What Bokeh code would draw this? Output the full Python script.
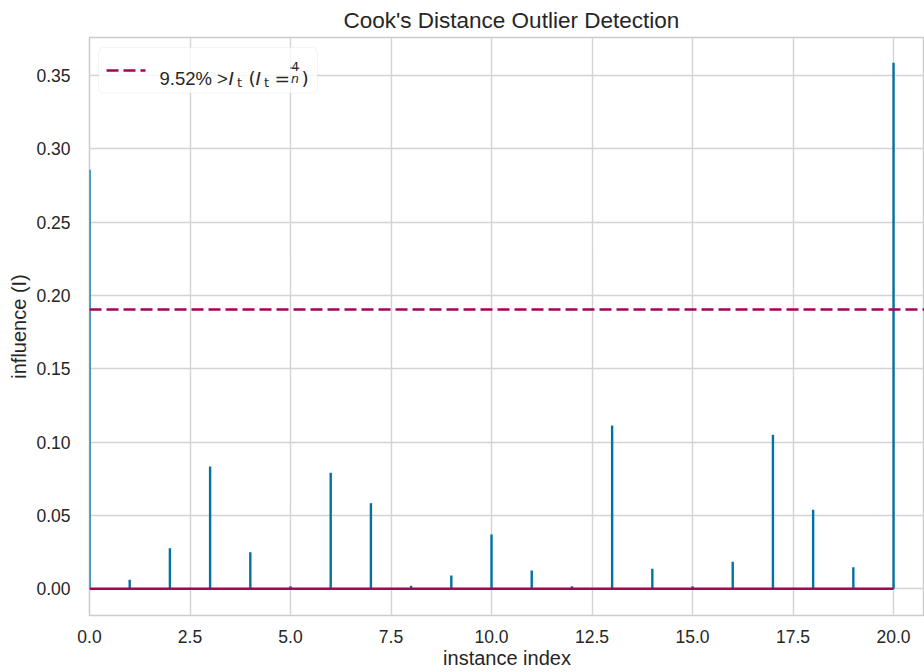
from bokeh.plotting import figure
from bokeh.models import (Range1d, FixedTicker, Span, BoxAnnotation,
                          Label, Arrow, PrintfTickFormatter)
from bokeh.embed import file_html
from bokeh.resources import INLINE

# ---- data ----
instance_index = list(range(21))
influence = [0.2857, 0.0061, 0.0277, 0.0834, 0.0250, 0.0018, 0.0791, 0.0584, 0.0020, 0.0091,
             0.0370, 0.0125, 0.0018, 0.1113, 0.0136, 0.0018, 0.0184, 0.1050, 0.0539, 0.0147,
             0.3586]
x_ticks = [0, 2.5, 5, 7.5, 10, 12.5, 15, 17.5, 20]
y_ticks = [0.0, 0.05, 0.10, 0.15, 0.20, 0.25, 0.30, 0.35]

n = len(influence)
threshold = 4.0 / n
pct_over = 100.0 * sum(1 for v in influence if v > threshold) / n

BLUE = "#0272a2"
MAG = "#a50258"
GRID = "#d3d3d3"
TXT = "#262626"
FONT = "Liberation Sans"
MATH = "DejaVu Sans"

XMIN, XMAX = 0.0, 20.77
YMIN, YMAX = -0.0182, 0.3759
FX0, FX1, FY0, FY1 = 89, 924, 37, 615


def px2x(px):
    return XMIN + (px - FX0) / (FX1 - FX0) * (XMAX - XMIN)


def py2y(py):
    return YMAX - (py - FY0) / (FY1 - FY0) * (YMAX - YMIN)


p = figure(width=924, height=672, output_backend="svg", toolbar_location=None,
           x_range=Range1d(XMIN, XMAX), y_range=Range1d(YMIN, YMAX),
           min_border_left=FX0, min_border_right=0, min_border_top=FY0,
           min_border_bottom=672 - FY1)

p.title.text = "Cook's Distance Outlier Detection"
p.title.align = "left"
p.title.offset = 254
p.title.text_font = FONT
p.title.text_font_size = "22.5px"
p.title.text_font_style = "normal"
p.title.text_color = TXT

p.background_fill_color = "white"
p.border_fill_color = "white"
p.outline_line_color = "#cccccc"
p.outline_line_width = 1.5

for ax in (p.xaxis[0], p.yaxis[0]):
    ax.axis_line_color = None
    ax.major_tick_line_color = None
    ax.minor_tick_line_color = None
    ax.major_label_text_font = FONT
    ax.major_label_text_font_size = "17.5px"
    ax.major_label_text_color = TXT
    ax.axis_label_text_font = FONT
    ax.axis_label_text_font_size = "20px"
    ax.axis_label_text_font_style = "normal"
    ax.axis_label_text_color = TXT

p.xaxis.axis_label = "instance index"
p.yaxis.axis_label = "influence (I)"
p.xaxis.ticker = FixedTicker(ticks=x_ticks)
p.yaxis.ticker = FixedTicker(ticks=y_ticks)
p.xaxis.formatter = PrintfTickFormatter(format="%.1f")
p.yaxis.formatter = PrintfTickFormatter(format="%.2f")
p.xaxis.major_label_standoff = 8
p.yaxis.major_label_standoff = 13
p.xaxis.axis_label_standoff = 1
p.yaxis.axis_label_standoff = 3

p.xgrid.grid_line_color = GRID
p.ygrid.grid_line_color = GRID
p.xgrid.grid_line_width = 1.4
p.ygrid.grid_line_width = 1.4

# threshold line
p.add_layout(Span(location=threshold, dimension="width", line_color=MAG,
                  line_width=2.5, line_dash="12 5"))

# stems
p.segment(x0=instance_index, y0=[0] * n, x1=instance_index, y1=influence,
          line_color=BLUE, line_width=2.4)
# baseline
p.segment(x0=[instance_index[0]], y0=[0], x1=[instance_index[-1]], y1=[0],
          line_color=MAG, line_width=2.6)

# ---- legend (drawn manually to allow math-like label) ----
p.add_layout(BoxAnnotation(left=px2x(98), right=px2x(317), top=py2y(47), bottom=py2y(92.5),
                           fill_color="white", fill_alpha=0.8, line_color="#dcdcdc",
                           line_width=1, border_radius=5))
p.add_layout(Arrow(end=None, x_start=px2x(106), y_start=py2y(70), x_end=px2x(145),
                   y_end=py2y(70), line_color=MAG, line_width=2.5, line_dash="12 5"))


def lab(text, px, py, size, font=FONT, style="normal"):
    p.add_layout(Label(x=px2x(px), y=py2y(py), text=text, text_font=font,
                       text_font_size=size, text_font_style=style, text_color=TXT,
                       text_align="left", text_baseline="alphabetic"))


lab("%.2f%% >" % pct_over, 159, 77.5, "18.5px")
lab("I", 228, 77.5, "18.5px", MATH, "italic")
lab("t", 236.5, 81.5, "13px", MATH)
lab("(", 248, 77.5, "18.5px", MATH)
lab("I", 255, 77.5, "18.5px", MATH, "italic")
lab("t", 263.5, 81.5, "13px", MATH)
lab("=", 274, 77.5, "18.5px", MATH)
lab("4", 291, 65.5, "12px", MATH)
lab("n", 290.5, 77.5, "12.5px", MATH, "italic")
p.add_layout(Arrow(end=None, x_start=px2x(289.5), y_start=py2y(67.5), x_end=px2x(299),
                   y_end=py2y(67.5), line_color=TXT, line_width=0.8))
lab(")", 301, 77.5, "18.5px", MATH)

open("out.html", "w").write(file_html(p, INLINE))
